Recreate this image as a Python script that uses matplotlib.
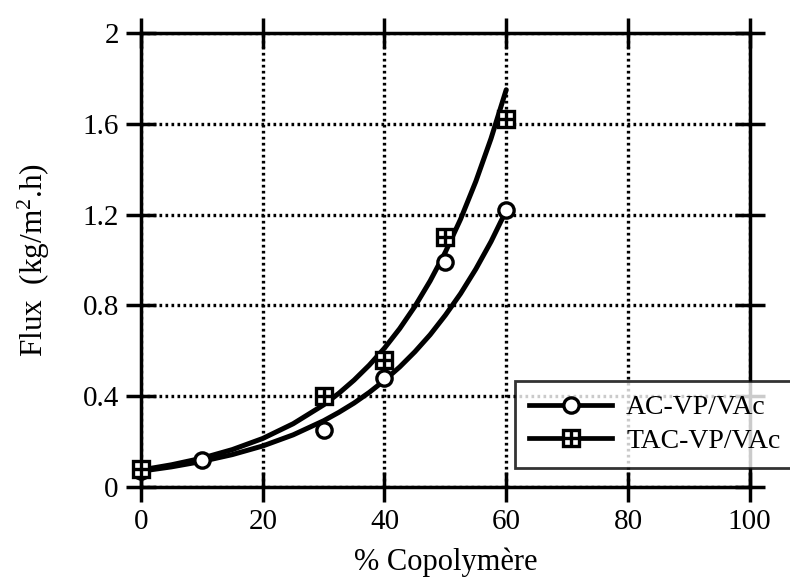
import numpy as np
import matplotlib
matplotlib.use('Agg')
import matplotlib.pyplot as plt
from matplotlib.lines import Line2D
from matplotlib.legend_handler import HandlerTuple

plt.rcParams['font.family'] = ['Liberation Serif', 'DejaVu Serif']
plt.rcParams['mathtext.fontset'] = 'custom'
plt.rcParams['mathtext.rm'] = 'Liberation Serif'
plt.rcParams['mathtext.it'] = 'Liberation Serif:italic'

x_ac = [0, 10, 30, 40, 50, 60]
flux_ac = [0.07, 0.12, 0.25, 0.48, 0.99, 1.22]
x_tac = [0, 30, 40, 50, 60]
flux_tac = [0.08, 0.40, 0.56, 1.10, 1.62]

# trend curves
x_curve = [0, 5, 10, 15, 20, 25, 30, 32.5, 35, 37.5, 40, 42.5, 45, 47.5,
           50, 52.5, 55, 57.5, 60]
curve_ac = [0.070, 0.089, 0.113, 0.143, 0.181, 0.230, 0.292, 0.329, 0.370,
            0.417, 0.470, 0.529, 0.596, 0.671, 0.757, 0.852, 0.960, 1.081,
            1.218]
curve_tac = [0.075, 0.098, 0.127, 0.165, 0.214, 0.279, 0.362, 0.413, 0.471,
             0.537, 0.612, 0.698, 0.796, 0.908, 1.035, 1.180, 1.346, 1.535,
             1.750]

xticks = [0, 20, 40, 60, 80, 100]
yticks = [0, 0.4, 0.8, 1.2, 1.6, 2]
ytick_labels = ['0', '0.4', '0.8', '1.2', '1.6', '2']

fig = plt.figure(figsize=(7.9, 5.84), dpi=100)
ax = fig.add_axes([0.1785, 0.166, 0.7705, 0.7775])

ax.set_xlim(0, 100)
ax.set_ylim(0, 2)
ax.set_xticks(xticks)
ax.set_yticks(yticks)
ax.set_yticklabels(ytick_labels)
ax.grid(True, linestyle=(0, (0.8, 1.0)), color='black', linewidth=2.4)
ax.set_axisbelow(True)
for s in ax.spines.values():
    s.set_linewidth(2.5)
ax.tick_params(direction='inout', length=22, width=2.5, labelsize=21,
               top=True, right=True, pad=5)

ax.plot(x_curve, curve_ac, color='black', lw=3.6, solid_joinstyle='round',
        solid_capstyle='round')
ax.plot(x_curve, curve_tac, color='black', lw=3.6, solid_joinstyle='round',
        solid_capstyle='round')

ax.plot(x_ac, flux_ac, 'o', ms=11, mfc='white', mec='black', mew=2.4,
        clip_on=False, zorder=5)
ax.plot(x_tac, flux_tac, 's', ms=11.5, mfc='white', mec='black', mew=2.4,
        clip_on=False, zorder=5)
ax.plot(x_tac, flux_tac, '+', ms=10.5, mec='black', mew=2.4,
        clip_on=False, zorder=6)

ax.set_xlabel('% Copolymère', fontsize=22, labelpad=9)
ax.set_ylabel('Flux  (kg/m$^2$.h)', fontsize=22.5, labelpad=22)

h1 = Line2D([], [], color='black', lw=3.4, marker='o', ms=11, mfc='white',
            mec='black', mew=2.4)
h2a = Line2D([], [], color='black', lw=3.4, marker='s', ms=11.5, mfc='white',
             mec='black', mew=2.4)
h2b = Line2D([], [], ls='none', marker='+', ms=10.5, mec='black', mew=2.4)
leg = fig.legend([h1, (h2a, h2b)], ['AC-VP/VAc', 'TAC-VP/VAc'],
                 handler_map={tuple: HandlerTuple(ndivide=1, pad=0)},
                 loc='lower left', bbox_to_anchor=(515 / 790, 1 - 468 / 584),
                 fontsize=20, frameon=True, fancybox=False, handlelength=3.0,
                 borderpad=0.5, labelspacing=0.3, handletextpad=0.5,
                 borderaxespad=0)
leg.get_frame().set_edgecolor('black')
leg.get_frame().set_linewidth(2.0)
leg.set_zorder(10)

fig.savefig('out.png', dpi=100, facecolor='white')
